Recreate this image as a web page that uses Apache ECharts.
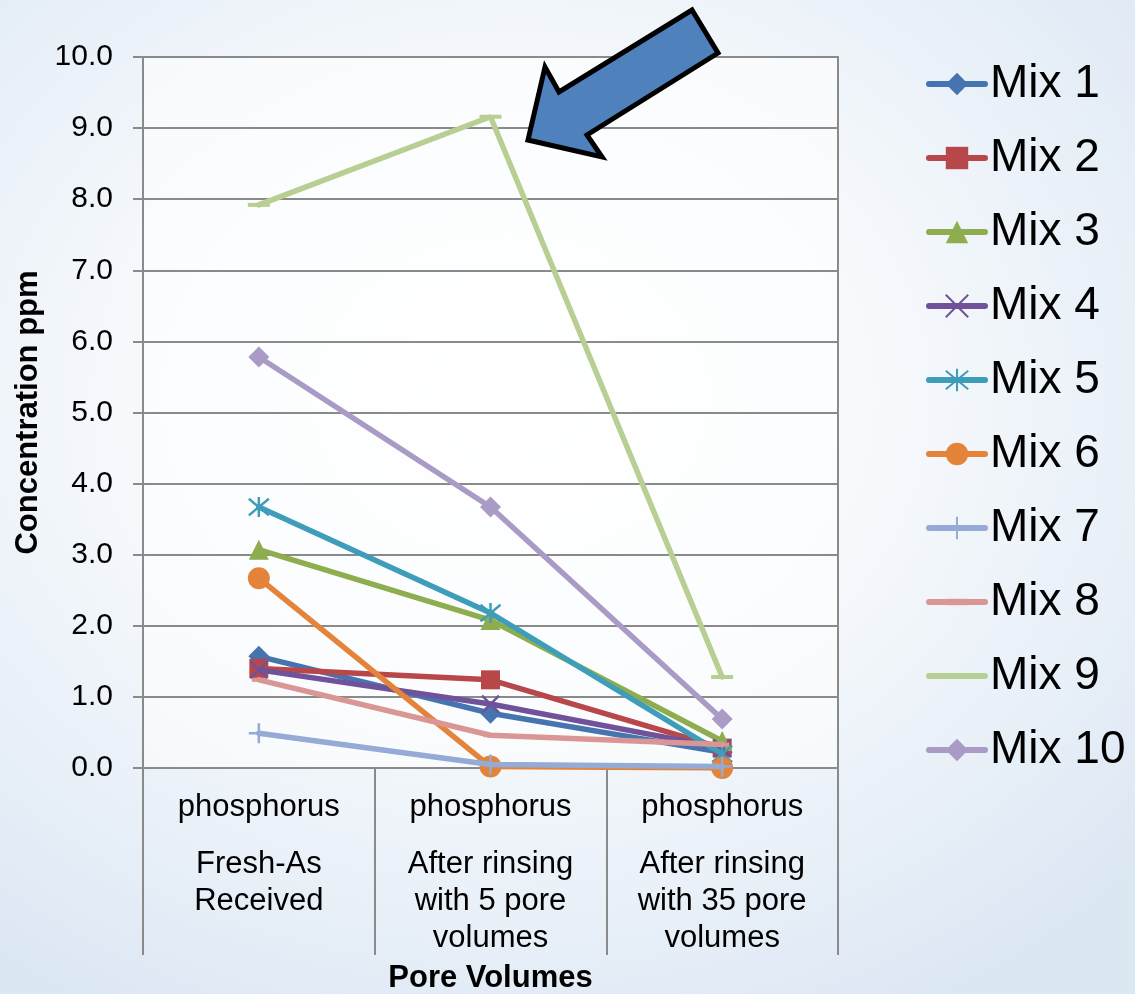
<!DOCTYPE html>
<html>
<head>
<meta charset="utf-8">
<script src="https://cdn.jsdelivr.net/npm/echarts@6/dist/echarts.min.js"></script>
<style>
  html, body { margin: 0; padding: 0; }
  body {
    width: 1135px; height: 994px; overflow: hidden;
    background: radial-gradient(ellipse 75% 70% at 45% 40%, #ffffff 0%, #f6f9fc 45%, #e6eef7 80%, #dce7f4 100%);
  }
  #chart { width: 1135px; height: 994px; }
</style>
</head>
<body>
<div id="chart"></div>
<script>
// ---- data ----
const groupLabels = ['phosphorus', 'phosphorus', 'phosphorus'];
const categories = ['Fresh-As\nReceived', 'After rinsing\nwith 5 pore\nvolumes', 'After rinsing\nwith 35 pore\nvolumes'];
const yTicks = [0, 1, 2, 3, 4, 5, 6, 7, 8, 9, 10];
const seriesNames = ['Mix 1', 'Mix 2', 'Mix 3', 'Mix 4', 'Mix 5', 'Mix 6', 'Mix 7', 'Mix 8', 'Mix 9', 'Mix 10'];
const mix1 = [1.57, 0.77, 0.22];
const mix2 = [1.40, 1.24, 0.28];
const mix3 = [3.07, 2.08, 0.38];
const mix4 = [1.38, 0.90, 0.28];
const mix5 = [3.67, 2.18, 0.20];
const mix6 = [2.67, 0.02, 0.00];
const mix7 = [0.49, 0.05, 0.02];
const mix8 = [1.24, 0.46, 0.33];
const mix9 = [7.92, 9.16, 1.28];
const mix10 = [5.78, 3.67, 0.69];
const seriesValues = [mix1, mix2, mix3, mix4, mix5, mix6, mix7, mix8, mix9, mix10];

// ---- styles ----
const colors = ['#4674B0', '#B8474A', '#8DAD4E', '#6F529A', '#3E9DB8', '#E3843A', '#93ABD5', '#D99694', '#B7CF92', '#A99BC6'];
const symbols = [
  'diamond',
  'rect',
  'triangle',
  'path://M0 0L10 10M10 0L0 10',
  'path://M0 1L10 11M10 1L0 11M5 0L5 12',
  'circle',
  'path://M6 0L6 12M0 6L12 6',
  'path://M0 0M0 5L14 5L14 9L0 9ZM14 14',
  'path://M0 0M0 9L22 9L22 13L0 13ZM22 22',
  'diamond'
];
const symbolSizes = [21, 19, 20, 17, 20, 22, 20, 14, 22, 21];
const stroked = [false, false, false, true, true, false, true, false, false, false];

const chart = echarts.init(document.getElementById('chart'), null, { renderer: 'canvas' });

const series = seriesNames.map((name, i) => ({
  name: name,
  type: 'line',
  data: seriesValues[i],
  symbol: symbols[i],
  symbolSize: symbolSizes[i],
  showSymbol: true,
  showAllSymbol: true,
  lineStyle: { color: colors[i], width: 5.5, cap: 'round' },
  itemStyle: {
    color: colors[i],
    borderColor: colors[i],
    borderWidth: stroked[i] ? 2.5 : 0
  },
  emphasis: { disabled: true },
  z: 2 + i
}));

const option = {
  animation: false,
  backgroundColor: 'transparent',
  textStyle: { fontFamily: 'Liberation Sans, Arial, sans-serif' },
  grid: {
    left: 143, right: 297, top: 57, bottom: 226,
    containLabel: false,
    outerBoundsMode: 'none',
    show: true,
    backgroundColor: 'rgba(255,255,255,0.55)',
    borderColor: '#8a8a8a',
    borderWidth: 2
  },
  legend: {
    orient: 'vertical',
    left: 926,
    top: 61,
    padding: 0,
    itemWidth: 56,
    itemHeight: 28,
    itemGap: 28,
    data: seriesNames,
    lineStyle: { width: 6, cap: 'round' },
    textStyle: { fontSize: 46, lineHeight: 46, color: '#000', fontFamily: 'Liberation Sans, Arial, sans-serif' }
  },
  xAxis: {
    type: 'category',
    data: categories,
    boundaryGap: true,
    name: 'Pore Volumes',
    nameLocation: 'middle',
    nameGap: 195,
    nameTextStyle: { fontSize: 31, fontWeight: 'bold', color: '#000', fontFamily: 'Liberation Sans, Arial, sans-serif' },
    axisLine: { show: true, lineStyle: { color: '#8a8a8a', width: 2 } },
    axisTick: { show: true, length: 187, interval: 0, lineStyle: { color: '#8a8a8a', width: 2 } },
    splitLine: { show: false },
    axisLabel: {
      interval: 0,
      margin: 0,
      align: 'center',
      verticalAlign: 'top',
      formatter: function (v, i) {
        return '{p|' + groupLabels[i] + '}\n' + v.split('\n').map(s => '{s|' + s + '}').join('\n');
      },
      rich: {
        p: { fontSize: 31, lineHeight: 78, color: '#000', align: 'center', fontFamily: 'Liberation Sans, Arial, sans-serif' },
        s: { fontSize: 31, lineHeight: 37, color: '#000', align: 'center', fontFamily: 'Liberation Sans, Arial, sans-serif' }
      }
    }
  },
  yAxis: {
    type: 'value',
    min: yTicks[0],
    max: yTicks[yTicks.length - 1],
    interval: 1,
    name: 'Concentration ppm',
    nameLocation: 'middle',
    nameGap: 97,
    nameRotate: 90,
    nameTextStyle: { fontSize: 31, fontWeight: 'bold', color: '#000', fontFamily: 'Liberation Sans, Arial, sans-serif' },
    axisLine: { show: true, lineStyle: { color: '#8a8a8a', width: 2 } },
    axisTick: { show: true, length: 10, lineStyle: { color: '#8a8a8a', width: 2 } },
    splitLine: { show: true, lineStyle: { color: '#8a8a8a', width: 2 } },
    axisLabel: {
      margin: 30,
      fontSize: 30,
      color: '#000',
      fontFamily: 'Liberation Sans, Arial, sans-serif',
      formatter: v => v.toFixed(1)
    }
  },
  graphic: [
    {
      type: 'polygon',
      z: 100,
      shape: {
        points: [[528, 140], [545, 67], [559, 92], [692, 10], [718, 53], [587, 135], [602, 157]]
      },
      style: { fill: '#4F81BD', stroke: '#000', lineWidth: 5, lineJoin: 'miter' }
    }
  ],
  series: series
};

chart.setOption(option);
</script>
</body>
</html>
